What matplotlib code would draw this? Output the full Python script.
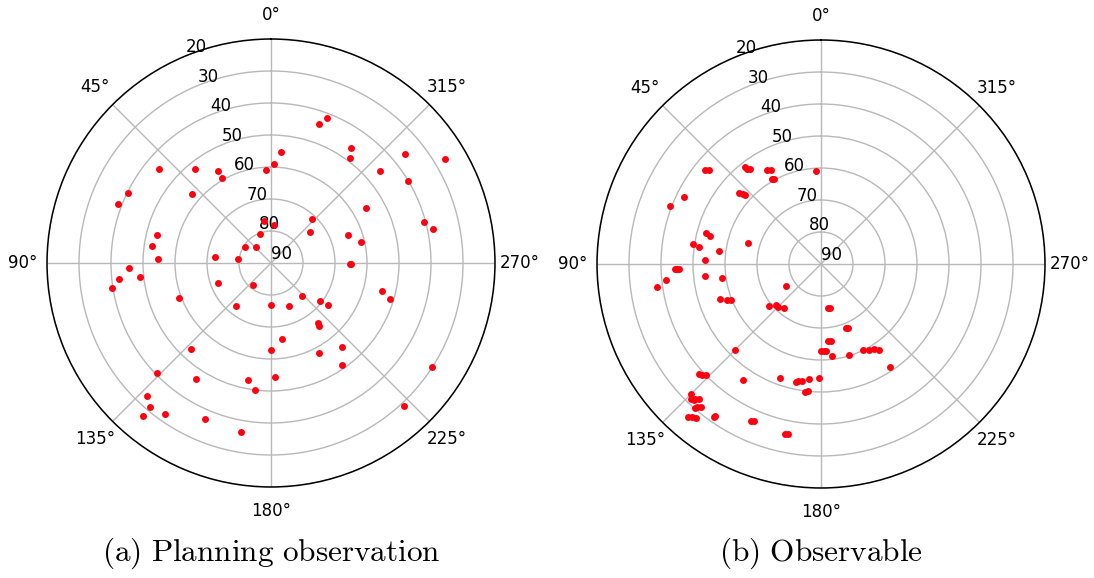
import numpy as np
import matplotlib
matplotlib.use('Agg')
import matplotlib.pyplot as plt

plt.rcParams['mathtext.fontset'] = 'cm'

# (a) Planning observation: azimuth (deg) and elevation (deg)
plan_az = [50, 39, 30, 30, 3, 64, 69, 49, 76, 82, 88, 84, 83, 58, 43, 21, 9,
           341, 339, 355, 358, 325, 323, 309, 301, 310, 301, 300, 317, 309, 355,
           285, 282, 290, 283, 269, 269,
           92, 96, 96, 99, 111, 111, 141, 141, 137, 134, 147, 169, 173, 137, 140,
           140, 145, 157, 170, 180, 202, 223, 232, 234, 218, 217, 188, 180, 208,
           220, 215, 182, 256, 253, 237, 223]
plan_el = [44.4, 52.3, 56.8, 59.5, 60.9, 40.2, 38.9, 57.1, 53.4, 52.4, 54.6, 72.4,
           79.5, 80.5, 83.3, 80.2, 76.8, 43.9, 41.6, 55.1, 58.9, 46.2, 49.1, 36.1,
           26.7, 45.4, 40.0, 55.9, 71.1, 74.4, 78.0, 40.5, 38.4, 64.5, 61.2, 65.3,
           64.9, 45.5, 42.1, 48.7, 39.6, 59.1, 72.2, 81.2, 72.6, 53.4, 40.5, 46.7,
           52.8, 50.1, 33.3, 31.4, 27.7, 32.3, 36.9, 36.3, 77.0, 75.4, 75.9, 70.7,
           67.8, 66.2, 65.2, 66.0, 62.9, 58.1, 55.6, 51.2, 54.3, 54.1, 51.0, 30.1,
           29.1]

# (b) Observable: azimuth (deg) and elevation (deg)
obs_az = [51, 50, 38, 38, 37, 30, 28, 30, 29, 3, 49, 48, 48, 64, 69, 75, 76, 81,
          82, 83, 74, 88, 92, 92, 92, 96, 98, 96, 98, 122, 109, 111, 112, 129,
          132, 135, 140, 135, 132, 133, 134, 146, 160, 168, 169, 171, 174, 173,
          174, 135, 136, 137, 138, 137, 139, 139, 140, 139, 140, 141, 145, 145,
          156, 157, 168, 169, 189, 192, 201, 203, 185, 187, 180, 182, 183, 187,
          197, 206, 209, 212, 214, 214, 179]
obs_el = [43.2, 44.3, 51.5, 52.3, 52.9, 56.0, 56.8, 59.2, 59.6, 61.0, 56.2, 57.2,
          57.9, 42.2, 39.6, 52.7, 54.2, 49.5, 51.6, 57.9, 66.3, 53.8, 44.4, 45.1,
          45.7, 41.4, 38.1, 53.5, 58.8, 77.2, 56.5, 58.5, 59.7, 69.0, 70.9, 71.2,
          72.2, 52.0, 38.7, 39.3, 39.9, 46.3, 52.2, 52.4, 52.6, 52.9, 54.0, 49.8,
          50.0, 32.7, 31.4, 32.0, 33.2, 32.3, 30.2, 30.9, 31.6, 26.8, 27.4, 28.1,
          31.5, 32.1, 36.3, 36.7, 35.7, 35.9, 76.1, 76.0, 68.5, 68.2, 65.7, 65.6,
          62.8, 62.8, 62.9, 61.1, 60.1, 60.1, 59.1, 58.5, 57.6, 51.2, 54.3]

r_ticks = [20, 30, 40, 50, 60, 70, 80, 90]
captions = ['(a) Planning observation', '(b) Observable']

fig = plt.figure(figsize=(10.94, 5.78), dpi=100)
positions = [[47 / 1094, 91 / 578, 448 / 1094, 448 / 578],
             [597 / 1094, 90 / 578, 448 / 1094, 448 / 578]]
series = [(plan_az, plan_el), (obs_az, obs_el)]

for pos, (az, el), cap in zip(positions, series, captions):
    ax = fig.add_axes(pos, projection='polar')
    ax.set_theta_zero_location('N')
    ax.plot(np.radians(az), el, 'o', color='#ff0010', ms=5, mec='none')
    ax.set_ylim(90, 20)
    ax.set_yticks(r_ticks)
    ax.tick_params(labelsize=12)
    ax.tick_params(axis='x', pad=7)
    ax.grid(True, color='#b8b8b8', linewidth=1.0)
    ax.spines['polar'].set_linewidth(1.1)
    cx = pos[0] + pos[2] / 2
    fig.text(cx, 0.043, r'$\mathrm{' + cap.replace(' ', r'\ ') + '}$',
             fontsize=22.5, ha='center', va='center')

fig.savefig('out.png')
